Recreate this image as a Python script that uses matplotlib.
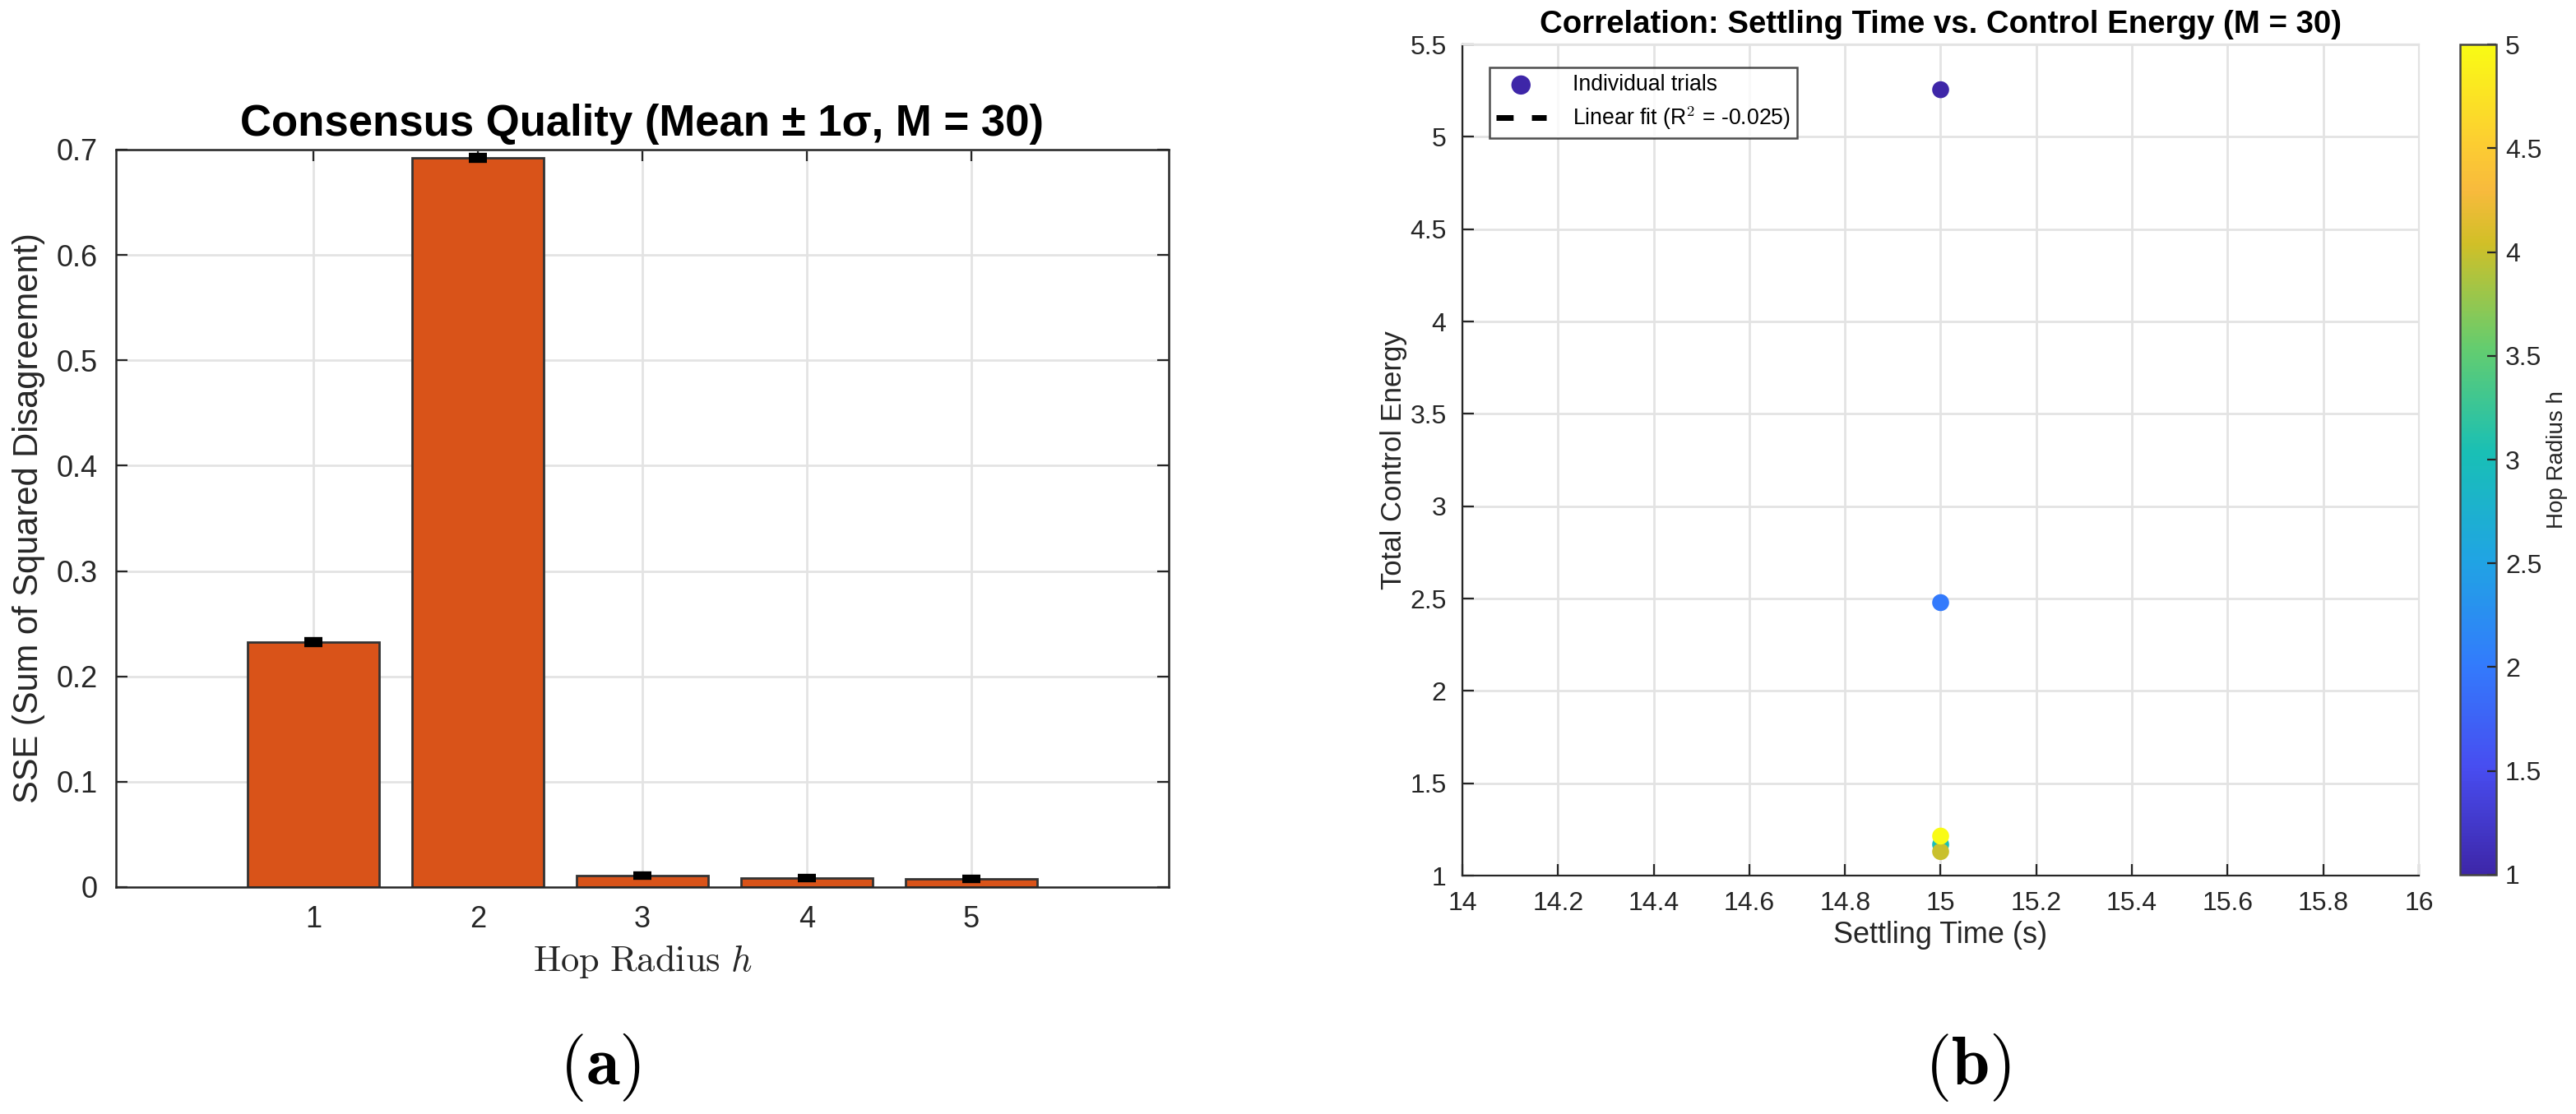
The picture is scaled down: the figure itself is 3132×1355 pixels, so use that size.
import numpy as np
import matplotlib
matplotlib.use("Agg")
import matplotlib.pyplot as plt
from matplotlib import font_manager
from matplotlib.colors import LinearSegmentedColormap, Normalize

# Dados do painel (a): SSE medio por raio de salto
hop = [1, 2, 3, 4, 5]
sse_mean = [0.2328, 0.6925, 0.0110, 0.0088, 0.0080]
sse_std = [0.0015, 0.0015, 0.0010, 0.0008, 0.0008]

# Dados do painel (b): tempo de acomodacao x energia de controle
settling = [15.0, 15.0, 15.0, 15.0, 15.0]
energy = [5.255, 2.478, 1.168, 1.130, 1.214]
hop_b = [1, 2, 3, 4, 5]
r2_text = "-0.025"

# Paleta parula (aproximada)
parula_pts = [
    (0.2422, 0.1504, 0.6603), (0.2813, 0.3006, 0.9414), (0.1963, 0.4847, 0.9892),
    (0.1248, 0.6459, 0.8883), (0.0964, 0.7500, 0.7120), (0.3909, 0.8029, 0.4354),
    (0.8203, 0.7498, 0.1535), (0.9728, 0.7298, 0.2394), (0.9892, 0.8136, 0.1885),
    (0.9769, 0.9839, 0.0805),
]
parula_pos = [0, 8 / 63, 16 / 63, 24 / 63, 32 / 63, 40 / 63, 48 / 63, 52 / 63, 56 / 63, 1]
parula = LinearSegmentedColormap.from_list("parula", list(zip(parula_pos, parula_pts)))

nomes = {f.name for f in font_manager.fontManager.ttflist}
narrow = "Liberation Sans Narrow" if "Liberation Sans Narrow" in nomes else "Liberation Sans"
sans = "Liberation Sans"

plt.rcParams["mathtext.fontset"] = "cm"
plt.rcParams["font.family"] = sans

cinza = "#262626"
grade = "#e3e3e3"

fig = plt.figure(figsize=(15.66, 6.775), dpi=200)

# ---------------- Painel (a) ----------------
ax1 = fig.add_axes([0.0450, 0.2037, 0.4087, 0.6620])
ax1.bar(hop, sse_mean, width=0.8, color="#D95319", edgecolor="#333333", linewidth=1.0, zorder=2)
ax1.errorbar(hop, sse_mean, yerr=sse_std, fmt="none", ecolor="black",
             elinewidth=1.0, capsize=4, capthick=3, zorder=3)
ax1.set_xlim(-0.2, 6.2)
ax1.set_ylim(0, 0.7)
ax1.set_xticks(hop)
ax1.set_yticks(np.arange(0, 0.71, 0.1))
ax1.set_yticklabels(["0", "0.1", "0.2", "0.3", "0.4", "0.5", "0.6", "0.7"])
ax1.grid(True, color=grade, linewidth=1.0, zorder=0)
ax1.set_axisbelow(True)
ax1.tick_params(direction="in", top=True, right=True, length=5, width=0.8,
                colors=cinza, labelsize=13, pad=8)
for lab in ax1.get_xticklabels() + ax1.get_yticklabels():
    lab.set_fontfamily(narrow)
for sp in ax1.spines.values():
    sp.set_color(cinza)
    sp.set_linewidth(0.9)
ax1.set_title("Consensus Quality (Mean ± 1σ, M = 30)", fontsize=19, fontweight="bold",
              family=narrow, pad=6)
ax1.set_ylabel("SSE (Sum of Squared Disagreement)", fontsize=15, color=cinza, labelpad=5)
ax1.set_xlabel(r"$\mathrm{Hop\ Radius}\ h$", fontsize=16, color=cinza, labelpad=4)

# ---------------- Painel (b) ----------------
ax2 = fig.add_axes([0.5677, 0.2140, 0.3713, 0.7461])
norm = Normalize(vmin=1, vmax=5)
sc = ax2.scatter(settling, energy, c=hop_b, cmap=parula, norm=norm, s=55,
                 edgecolors="none", zorder=3, label="Individual trials")
ax2.plot([], [], "--", color="black", linewidth=2.5, dashes=(3, 3.2),
         label=r"Linear fit (R$^2$ = " + r2_text + ")")
ax2.set_xlim(14, 16)
ax2.set_ylim(1, 5.5)
ax2.set_xticks(np.arange(14, 16.01, 0.2))
ax2.set_xticklabels(["14", "14.2", "14.4", "14.6", "14.8", "15", "15.2", "15.4", "15.6", "15.8", "16"])
ax2.set_yticks(np.arange(1, 5.51, 0.5))
ax2.set_yticklabels(["1", "1.5", "2", "2.5", "3", "3.5", "4", "4.5", "5", "5.5"])
ax2.grid(True, color=grade, linewidth=1.0, zorder=0)
ax2.set_axisbelow(True)
ax2.tick_params(direction="in", length=5, width=0.8, colors=cinza, labelsize=11.5, pad=7)
for lab in ax2.get_xticklabels() + ax2.get_yticklabels():
    lab.set_fontfamily(narrow)
ax2.spines["top"].set_color(grade)
ax2.spines["right"].set_color(grade)
ax2.spines["left"].set_color(cinza)
ax2.spines["bottom"].set_color(cinza)
ax2.set_title("Correlation: Settling Time vs. Control Energy (M = 30)", fontsize=13.8,
              fontweight="bold", family=narrow, pad=5)
ax2.set_xlabel("Settling Time (s)", fontsize=13, family=narrow, color=cinza, labelpad=2)
ax2.set_ylabel("Total Control Energy", fontsize=12.5, color=cinza, labelpad=1)
leg = ax2.legend(loc="upper left", bbox_to_anchor=(0.028, 0.972), borderaxespad=0,
                 prop={"family": narrow, "size": 9.6}, frameon=True, fancybox=False,
                 edgecolor="#222222", handlelength=2.3, handletextpad=1.2,
                 borderpad=0.3, labelspacing=0.4)
leg.get_frame().set_linewidth(0.9)
leg.legend_handles[0].set_color(parula(0.0))

cax = fig.add_axes([0.9550, 0.2148, 0.0140, 0.7453])
cb = fig.colorbar(sc, cax=cax, ticks=np.arange(1, 5.01, 0.5))
cb.ax.set_yticklabels(["1", "1.5", "2", "2.5", "3", "3.5", "4", "4.5", "5"])
cb.ax.tick_params(direction="in", length=4, width=0.8, colors=cinza, labelsize=11.5, pad=4)
for lab in cb.ax.get_yticklabels():
    lab.set_fontfamily(narrow)
cb.outline.set_edgecolor("#444444")
cb.outline.set_linewidth(0.9)
cb.set_label("Hop Radius h", fontsize=10, color=cinza, labelpad=2)

# Rotulos (a) e (b)
fig.text(0.2330, 0.042, r"$(\mathbf{a})$", fontsize=30, ha="center", va="center")
fig.text(0.7640, 0.042, r"$(\mathbf{b})$", fontsize=30, ha="center", va="center")

fig.savefig("out.png", dpi=200)
